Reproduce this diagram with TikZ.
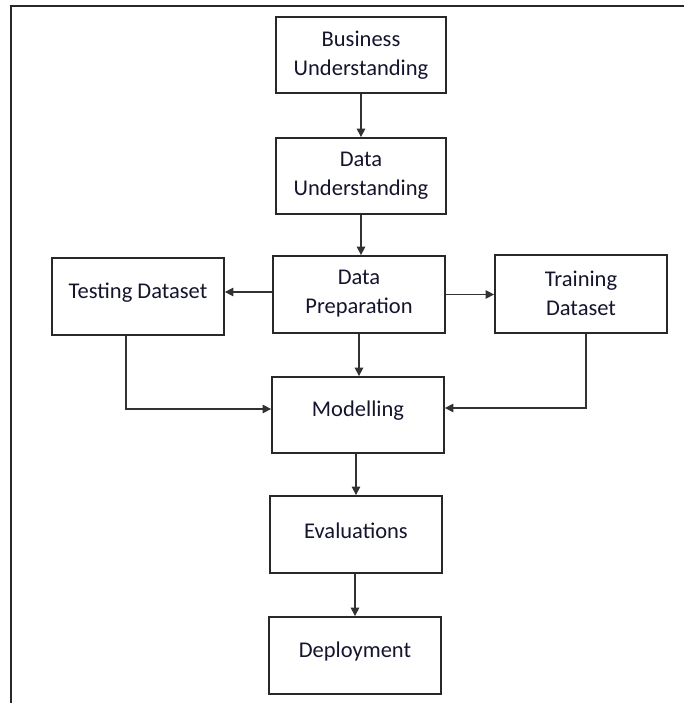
\documentclass[tikz,border=0pt]{standalone}
\usepackage{fontspec}
\setmainfont{Carlito}
\usetikzlibrary{arrows.meta,calc}
\definecolor{linecol}{RGB}{40,40,40}
\definecolor{conncol}{RGB}{50,50,50}
\definecolor{txtcol}{RGB}{20,20,45}
\tikzset{
  stagebox/.style={draw=linecol, line width=1.8pt, rectangle, inner sep=0pt, minimum width=172pt, minimum height=77pt},
  stagetxt/.style={inner sep=0pt, align=center, text=txtcol, font=\fontsize{22.5}{29}\selectfont},
  conn/.style={draw=conncol, line width=1.3pt, -{Triangle[length=8.5pt,width=8.5pt]}},
  framel/.style={draw=linecol, line width=2pt}
}
\begin{document}
\begin{tikzpicture}[x=1pt,y=1pt]
\useasboundingbox (0,0) rectangle (684,703);
% frame
\coordinate (fa) at (11,0);
\coordinate (fb) at (11,697);
\coordinate (fc) at (684,697);
\draw[framel] (fa) -- (fb) -- (fc);
% boxes
\node[stagebox, minimum width=170pt, minimum height=76pt] (bu) at (361,648) {};
\node[stagebox, minimum width=170pt, minimum height=76pt] (du) at (361,527) {};
\node[stagebox] (dp) at (359,408.5) {};
\node[stagebox] (td) at (138,406.5) {};
\node[stagebox, minimum height=78pt] (trd) at (581,409) {};
\node[stagebox, minimum height=76pt] (mo) at (358,288) {};
\node[stagebox] (ev) at (356,168.5) {};
\node[stagebox] (de) at (355,47.5) {};
% texts
\node[stagetxt] (tbu) at (bu) {Business\\Understanding};
\node[stagetxt] (tdu) at (du) {Data\\Understanding};
\node[stagetxt] (tdp) at ($(dp)+(0,1)$) {Data\\Preparation};
\node[stagetxt] (ttd) at ($(td)+(0,4)$) {Testing Dataset};
\node[stagetxt] (ttrd) at ($(trd)+(0,1)$) {Training\\Dataset};
\node[stagetxt] (tmo) at ($(mo)+(0,4)$) {Modelling};
\node[stagetxt] (tev) at ($(ev)+(0,4)$) {Evaluations};
\node[stagetxt] (tde) at ($(de)+(0,4)$) {Deployment};
% connectors
\draw[conn] (bu.south) -- (du.north);
\draw[conn] (du.south) -- (du.south |- dp.north);
\coordinate (dpw) at ($(dp.west)+(0,2.5)$);
\draw[conn] (dpw) -- (dpw -| td.east);
\draw[conn] (dp.east) -- (dp.east -| trd.west);
\draw[conn] (dp.south) -- (dp.south |- mo.north);
\coordinate (tdb) at ($(td.south)+(-12,0)$);
\coordinate (mow) at ($(mo.west)+(0,6)$);
\draw[conn] (tdb) |- (mow);
\coordinate (trdb) at ($(trd.south)+(5,0)$);
\coordinate (moe) at ($(mo.east)+(0,7)$);
\draw[conn] (trdb) |- (moe);
\draw[conn] (ev.north |- mo.south) -- (ev.north);
\draw[conn] (de.north |- ev.south) -- (de.north);
\end{tikzpicture}
\end{document}
